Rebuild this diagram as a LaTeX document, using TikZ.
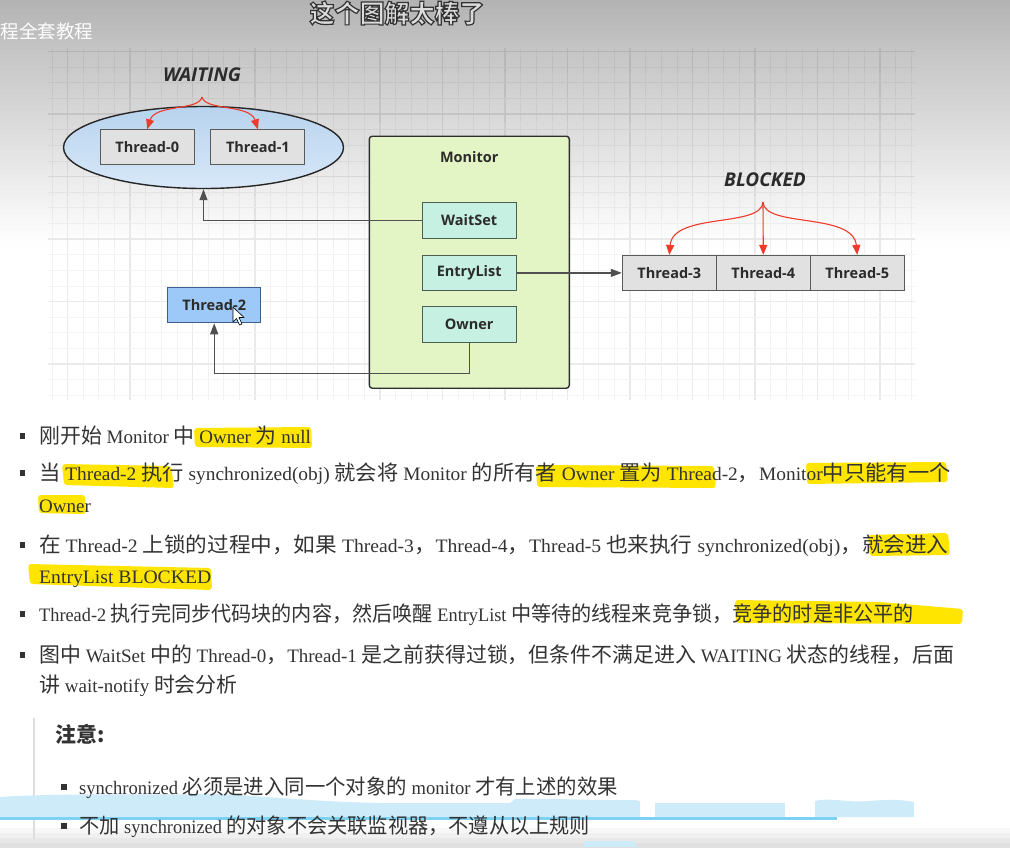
\documentclass[tikz,border=0pt]{standalone}
\usepackage{fontspec}
\setmainfont{Liberation Serif}
\newfontfamily\zhfont{Noto Sans CJK SC}[Scale=1.1]
\newfontfamily\labfont{Open Sans}
\usetikzlibrary{arrows.meta,shapes.geometric,fadings}
\newcommand{\Z}[1]{{\zhfont #1}}
\newcommand{\hs}[2]{\scalebox{#1}[1]{#2}}
\definecolor{textc}{HTML}{333333}
\definecolor{labtext}{HTML}{2B2B2B}
\definecolor{thrfill}{HTML}{E1E1E1}
\definecolor{thrborder}{HTML}{5A5A5A}
\definecolor{itemfill}{HTML}{C6F1E2}
\definecolor{itemborder}{HTML}{4D5F55}
\definecolor{monfill}{HTML}{E3F5C5}
\definecolor{monborder}{HTML}{2E2E2E}
\definecolor{ttwofill}{HTML}{9CC9F7}
\definecolor{ttwoborder}{HTML}{3D5F8F}
\definecolor{elltop}{HTML}{B8D3EE}
\definecolor{ellbot}{HTML}{D8E8F8}
\definecolor{redc}{HTML}{EE3B2B}
\definecolor{connc}{HTML}{505050}
\definecolor{barc}{HTML}{DDDDDD}
\definecolor{hlc}{HTML}{FFE500}
\definecolor{bandlight}{HTML}{CDEBF8}
\definecolor{bandline}{HTML}{7DD1F2}
\definecolor{topgray}{HTML}{B3B3B3}
\definecolor{midgray}{HTML}{C6C6C6}
\tikzset{
  lab/.style={font=\labfont\bfseries\fontsize{14.5}{16}\selectfont, text=labtext, inner sep=0pt},
  thr/.style={lab, draw=thrborder, fill=thrfill, line width=1pt, minimum width=94pt, minimum height=35pt},
  item/.style={lab, draw=itemborder, fill=itemfill, line width=1pt, minimum width=94pt, minimum height=35.5pt},
  ttwo/.style={lab, draw=ttwoborder, fill=ttwofill, line width=1pt, minimum width=93.5pt, minimum height=35.5pt},
  statelbl/.style={font=\labfont\bfseries\itshape\fontsize{19}{22}\selectfont, text=labtext, inner sep=0pt},
  conn/.style={draw=connc, line width=1.2pt, -{Triangle[length=11pt,width=8pt]}},
  redarr/.style={draw=redc, line width=1.1pt, -{Triangle[length=10pt,width=8pt]}},
  para/.style={anchor=base west, inner sep=0pt, text=textc, font=\fontsize{19}{23}\selectfont},
  bul/.style={fill=textc},
  hl/.style={fill=hlc, rounded corners=3pt},
}
% grey percentage of a grid line at height y: background tone there, darkened by an offset
\newcommand{\gridp}[2]{\pgfmathsetmacro\p{(255-(198+57*max(0,min(1,(#1-55)/190))-#2))/2.55}}
\begin{document}
\begin{tikzpicture}[x=1pt,y=-1pt]
\useasboundingbox (0,0) rectangle (1010,847);
\fill[white] (0,0) rectangle (1010,847);
% top vignette as solid strips
\foreach \k in {0,...,10}{
  \pgfmathsetmacro\q{100-100*\k/10}
  \fill[topgray!\q!midgray] (0,{5*\k}) rectangle (1010,{5*\k+5.6});}
\foreach \k in {0,...,37}{
  \pgfmathsetmacro\q{100-100*(\k+0.5)/38}
  \fill[midgray!\q!white] (0,{55+5*\k}) rectangle (1010,{60.6+5*\k});}
% grid: vertical lines as thin filled bars
\foreach \i in {0,...,55}{
  \pgfmathsetmacro\gx{51.875+15.625*\i}
  \foreach \s in {0,...,7}{
    \pgfmathsetmacro\ya{48+24.625*\s}
    \gridp{(\ya+12.3)}{10}
    \fill[black!\p] (\gx-0.35,\ya) rectangle (\gx+0.35,\ya+24.7);}
  \gridp{300}{13}
  \fill[black!\p] (\gx-0.35,245) rectangle (\gx+0.35,400);}
\foreach \i in {0,...,13}{
  \pgfmathsetmacro\gx{67.5+62.5*\i}
  \foreach \s in {0,...,7}{
    \pgfmathsetmacro\ya{48+24.625*\s}
    \gridp{(\ya+12.3)}{18}
    \fill[black!\p] (\gx-0.6,\ya) rectangle (\gx+0.6,\ya+24.7);}
  \gridp{300}{22}
  \fill[black!\p] (\gx-0.6,245) rectangle (\gx+0.6,400);}
% grid: horizontal lines
\foreach \j in {0,...,22}{
  \pgfmathsetmacro\yy{51.5+15.625*\j}
  \gridp{\yy}{11}
  \fill[black!\p] (48,\yy-0.35) rectangle (915,\yy+0.35);}
\foreach \j in {0,...,5}{
  \pgfmathsetmacro\yy{51.5+62.5*\j}
  \gridp{\yy}{20}
  \fill[black!\p] (48,\yy-0.6) rectangle (915,\yy+0.6);}
\node[inner sep=0pt, font=\zhfont\bfseries\fontsize{22.7}{25}\selectfont] (title) at (397,13) {\special{pdf:literal direct 2 Tr 1.2 w 0.86 g 0.2 G}这个图解太棒了\special{pdf:literal direct 0 Tr 0 g 0 G}};
\node[anchor=west, inner sep=0pt, text=white, font=\zhfont\fontsize{16.8}{20}\selectfont] (course) at (0.5,31) {程全套教程};
% diagram
\node[ellipse, draw=black!85, line width=1.4pt, top color=elltop, bottom color=ellbot, minimum width=280pt, minimum height=82pt, inner sep=0pt] (wait) at (203.5,147.5) {};
\node[thr] (t0) at (147.2,147.3) {Thread-0};
\node[thr] (t1) at (257.9,147.3) {Thread-1};
\node[statelbl] (waitlbl) at (202,75) {WAITING};
\coordinate (wsrc) at (202,97);
\draw[redarr] (wsrc) .. controls (199,111) and (155,104) .. (t0.north);
\draw[redarr] (wsrc) .. controls (205,111) and (250,104) .. (t1.north);
\node[draw=monborder, fill=monfill, line width=1.4pt, rounded corners=3pt, minimum width=200pt, minimum height=252pt, inner sep=0pt] (monitor) at (469.3,262.2) {};
\node[lab] (monlbl) at (469.3,157) {Monitor};
\node[item] (waitset) at (469.2,220.5) {WaitSet};
\node[item] (entry) at (469.2,272.9) {EntryList};
\node[item] (owner) at (469.2,324.5) {Owner};
\node[thr] (t3) at (669.3,272.9) {Thread-3};
\node[thr] (t4) at (763.3,272.9) {Thread-4};
\node[thr] (t5) at (857.3,272.9) {Thread-5};
\node[statelbl] (blocklbl) at (765,180) {BLOCKED};
\coordinate (bsrc) at (763,202);
\draw[redarr] (bsrc) .. controls (762,228) and (673,212) .. (t3.north);
\draw[redarr] (bsrc) -- (t4.north);
\draw[redarr] (bsrc) .. controls (764,228) and (853,212) .. (t5.north);
\node[ttwo] (t2) at (214.2,305) {Thread-2};
\draw[conn] (waitset.west) -| (wait.south);
\draw[conn] (entry.east) -- (t3.west);
\draw[conn] (owner.south) -- ++(0,31) -| (t2.south);
% cursor
\draw[fill=white, draw=black, line width=0.6pt, line join=round] (233,307) -- (233,322) -- (236.5,318.5) -- (239.5,325) -- (242,324) -- (239,317.5) -- (244,317.5) -- cycle;
% highlights
\fill[hl] (194,428) -- (311,427) -- (312,448) -- (195,447) -- cycle;
\fill[hl] (62,464) -- (171,466) -- (174,488) -- (64,485) -- cycle;
\fill[hl] (536,465) -- (714,466) -- (716,488) -- (537,487) -- cycle;
\fill[hl] (806,463) -- (946,462) -- (948,482) -- (807,484) -- cycle;
\fill[hl] (38,495) -- (85,495) -- (86,514) -- (39,513) -- cycle;
\fill[hl] (868,535) -- (948,533) -- (950,555) -- (870,556) -- cycle;
\fill[hl] (28,564) -- (211,568) -- (212,590) -- (30,584) -- cycle;
\fill[hl] (735,600) -- (880,602) -- (963,609) -- (962,624) -- (736,623) -- cycle;
% bullets
\foreach \yy in {436,473,545,614,655}{\fill[bul] (19.5,\yy-3) rectangle (25,\yy+3);}
\node[para] (p1) at (39,443) {\Z{刚开始} Monitor \Z{中} Owner \Z{为} null};
\node[para] (p2) at (39,480) {\hs{1.02}{\Z{当} Thread-2 \Z{执行} synchronized(obj) \Z{就会将} Monitor \Z{的所有者} Owner \Z{置为} Thread-2\Z{，}Monitor\Z{中只能有一个}}};
\node[para] (p2b) at (39,512) {Owner};
\node[para] (p3) at (39,552) {\hs{1.034}{\Z{在} Thread-2 \Z{上锁的过程中，如果} Thread-3\Z{，}Thread-4\Z{，}Thread-5 \Z{也来执行} synchronized(obj)\Z{，就会进入}}};
\node[para] (p3b) at (39,583) {\hs{1.035}{EntryList BLOCKED}};
\node[para] (p4) at (39,621) {\hs{0.963}{Thread-2 \Z{执行完同步代码块的内容，然后唤醒} EntryList \Z{中等待的线程来竞争锁，竞争的时是非公平的}}};
\node[para] (p5) at (39,662) {\Z{图中} WaitSet \Z{中的} Thread-0\Z{，}Thread-1 \Z{是之前获得过锁，但条件不满足进入} WAITING \Z{状态的线程，后面}};
\node[para] (p5b) at (39,692) {\Z{讲} wait-notify \Z{时会分析}};
% note block
\foreach \k in {0,...,3}{
  \pgfmathsetmacro\q{3+3*\k}
  \fill[black!\q] (0,{828+5*\k}) rectangle (1010,{833.6+5*\k});}
\draw[barc, line width=1.5pt] (34,718) -- (34,838);
\node[para] (note) at (55,742) {{\zhfont\bfseries 注意:}};
% blue brush
\fill[bandlight] (0,817) -- (0,797) .. controls (60,793) and (150,795) .. (220,794) .. controls (260,796) and (320,802) .. (380,803) -- (510,803) -- (515,799) .. controls (560,798) and (600,801) .. (635,800) -- (640,801) -- (640,817) -- cycle;
\fill[bandlight] (655,803) -- (785,803) -- (785,817) -- (655,817) -- cycle;
\fill[bandlight] (815,801) .. controls (830,797) and (845,803) .. (870,801) .. controls (890,799) and (905,800) .. (914,802) -- (914,817) -- (815,817) -- cycle;
\fill[bandlight] (583,847) -- (585,841) -- (633,841) -- (638,847) -- cycle;
\draw[bandline, line width=3pt] (0,818.5) -- (837,818.5);
\foreach \yy in {787,826}{\fill[bul] (61,\yy-3) rectangle (66.5,\yy+3);}
\node[para] (n1) at (79,794) {\hs{0.976}{synchronized \Z{必须是进入同一个对象的} monitor \Z{才有上述的效果}}};
\node[para] (n2) at (79,833.5) {\hs{0.966}{\Z{不加} synchronized \Z{的对象不会关联监视器，不遵从以上规则}}};
\end{tikzpicture}
\end{document}
